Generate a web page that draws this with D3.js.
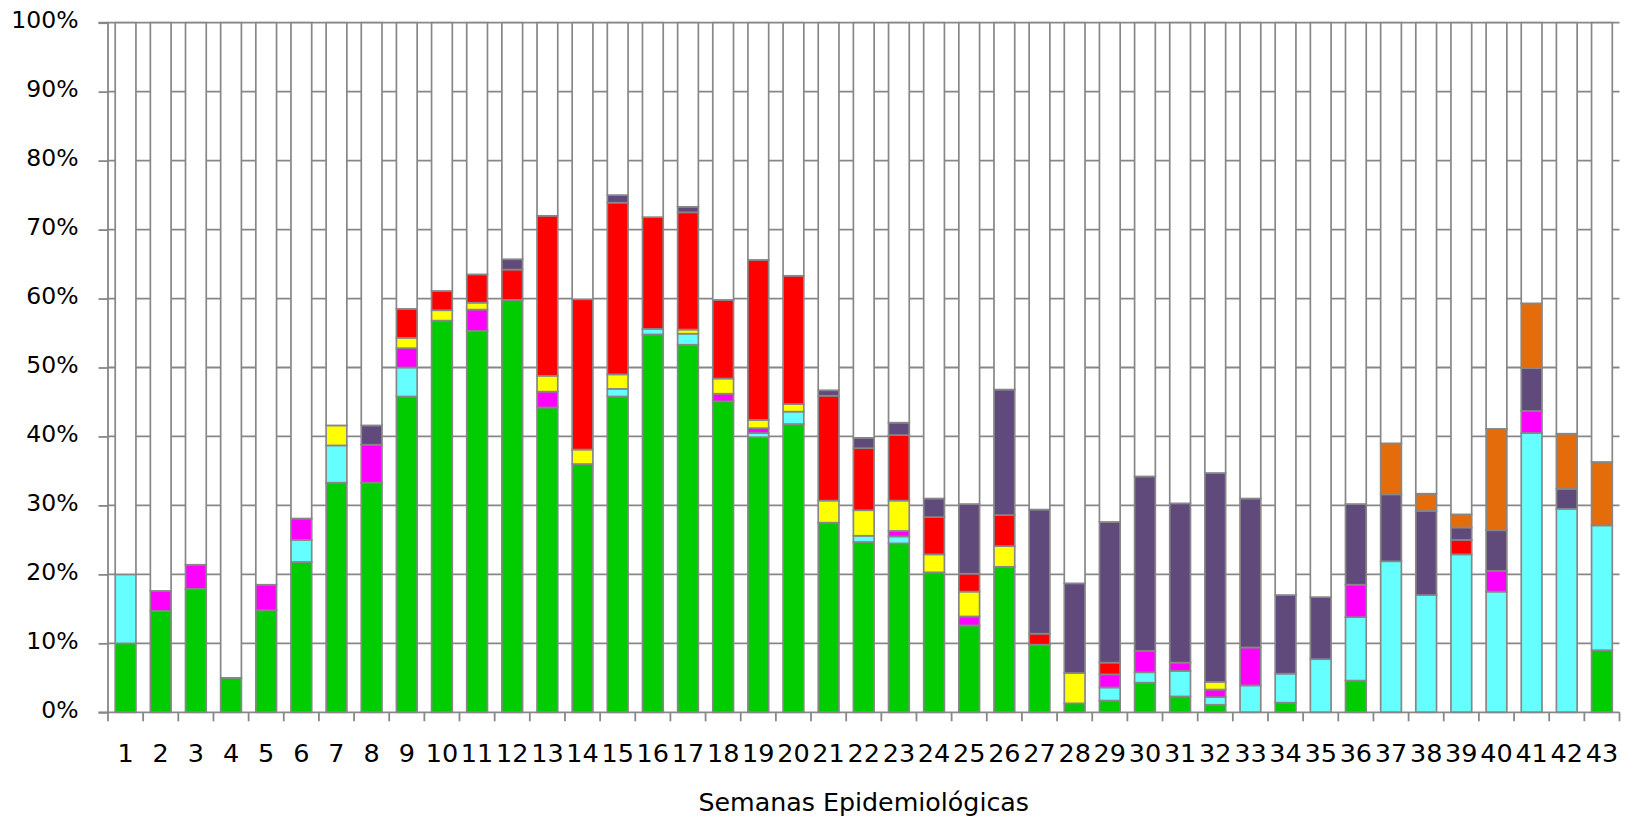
<!DOCTYPE html>
<html>
<head>
<meta charset="utf-8">
<script src="https://cdn.jsdelivr.net/npm/d3@7"></script>
<style>
  html, body { margin: 0; padding: 0; background: #fff; }
  svg { display: block; }
  text { font-family: "DejaVu Sans", sans-serif; fill: #000; }
</style>
</head>
<body>
<svg id="chart" width="1633" height="822"></svg>
<script>
// ---- Data (percent of samples per epidemiological week) ----
const weeks = d3.range(1, 44).map(String);
const green   = [10,14.7,17.9,5.0,14.8,21.8,33.3,33.3,45.8,56.8,55.3,59.8,44.2,36.0,45.8,54.8,53.3,45.1,39.9,41.8,27.5,24.7,24.5,20.3,12.6,21.1,9.8,1.3,1.7,4.3,2.3,1.1,0,1.4,0,4.6,0,0,0,0,0,0,9.0];
const cyan    = [10,0,0,0,0,3.2,5.4,0,4.2,0,0,0,0,0,1.1,0.8,1.6,0,0.6,1.8,0,0.9,1.0,0,0,0,0,0,1.9,1.5,3.7,1.1,3.9,4.2,7.7,9.2,21.9,17.0,22.9,17.5,40.5,29.5,18.1];
const magenta = [0,2.9,3.5,0,3.7,3.1,0,5.5,2.8,0,3.1,0,2.3,0,0,0,0,1.1,0.7,0,0,0,0.8,0,1.3,0,0,0,1.9,3.1,1.2,1.1,5.5,0,0,4.7,0,0,0,3.0,3.2,0,0];
const yellow  = [0,0,0,0,0,0,2.9,0,1.5,1.5,1.0,0,2.3,2.1,2.1,0,0.6,2.2,1.2,1.1,3.2,3.7,4.4,2.6,3.6,3.0,0,4.4,0,0,0,1.1,0,0,0,0,0,0,0,0,0,0,0];
const red     = [0,0,0,0,0,0,0,0,4.2,2.8,4.1,4.4,23.2,21.8,24.9,16.2,17.0,11.4,23.2,18.6,15.2,9.0,9.5,5.4,2.6,4.5,1.6,0,1.7,0,0,0,0,0,0,0,0,0,2.1,0,0,0,0];
const purple  = [0,0,0,0,0,0,0,2.8,0,0,0,1.5,0,0,1.1,0,0.8,0,0,0,0.8,1.5,1.8,2.7,10.1,18.2,18.0,13.0,20.4,25.3,23.1,30.3,21.6,11.4,9.0,11.7,9.7,12.2,1.8,5.9,6.2,2.9,0];
const orange  = [0,0,0,0,0,0,0,0,0,0,0,0,0,0,0,0,0,0,0,0,0,0,0,0,0,0,0,0,0,0,0,0,0,0,0,0,7.4,2.5,1.9,14.7,9.4,8.0,9.2];
const negative= [80,82.4,78.6,95.0,81.5,71.9,58.4,58.4,41.5,38.9,36.5,34.3,28.0,40.1,25.0,28.2,26.7,40.2,34.4,36.7,53.3,60.2,58.0,69.0,69.8,53.2,70.6,81.3,72.4,65.8,69.7,65.3,69.0,83.0,83.3,69.8,61.0,68.3,71.3,58.9,40.7,59.6,63.7];
const yTicks  = [0,0.1,0.2,0.3,0.4,0.5,0.6,0.7,0.8,0.9,1.0];
const xTitle  = "Semanas Epidemiológicas";

const seriesNames = ["green","cyan","magenta","yellow","red","purple","orange","negative"];
const seriesColors = {
  green: "#00CC00", cyan: "#66FFFF", magenta: "#FF00FF", yellow: "#FFFF00",
  red: "#FF0000", purple: "#604A7B", orange: "#E46C0A", negative: "#FFFFFF"
};
const seriesData = { green, cyan, magenta, yellow, red, purple, orange, negative };

const rows = weeks.map((w, i) => {
  const r = { week: w };
  seriesNames.forEach(s => r[s] = seriesData[s][i]);
  return r;
});

// ---- Layout ----
const mLeft = 108, mRight = 1619.5, mTop = 22.7, mBottom = 712.3;
const svg = d3.select("#chart");

const x = d3.scaleBand().domain(weeks).range([mLeft, mRight]).paddingInner(0.41).paddingOuter(0.205);
const y = d3.scaleLinear().domain([0, 1]).range([mBottom, mTop]);

const gridColor = "#878787";

// gridlines
svg.append("g").selectAll("line").data(yTicks.filter(t => t > 0)).join("line")
  .attr("x1", mLeft).attr("x2", mRight)
  .attr("y1", d => y(d)).attr("y2", d => y(d))
  .attr("stroke", gridColor).attr("stroke-width", 1.8);

// stacked bars
const stack = d3.stack().keys(seriesNames).offset(d3.stackOffsetExpand);
const stacked = stack(rows);

const gBars = svg.append("g");
stacked.forEach(layer => {
  gBars.append("g")
    .attr("fill", seriesColors[layer.key])
    .selectAll("rect")
    .data(layer.filter(d => d[1] - d[0] > 1e-9))
    .join("rect")
    .attr("x", d => x(d.data.week))
    .attr("width", x.bandwidth())
    .attr("y", d => y(d[1]))
    .attr("height", d => y(d[0]) - y(d[1]))
    .attr("stroke", gridColor)
    .attr("stroke-width", 1.7);
});

// y axis
const yAxis = d3.axisLeft(y).tickValues(yTicks).tickFormat(d3.format(".0%")).tickSize(9.5).tickPadding(20);
const gy = svg.append("g").attr("transform", `translate(${mLeft},0)`).call(yAxis);
gy.select(".domain").attr("stroke", gridColor).attr("stroke-width", 1.8).attr("d", `M-9.5,${mTop}H0V${mBottom}H-9.5`);
gy.selectAll(".tick line").attr("stroke", gridColor).attr("stroke-width", 1.8);
gy.selectAll(".tick text")
  .attr("font-size", "23.5px")
  .attr("font-family", "DejaVu Sans, sans-serif")
  .attr("fill", "#000")
  .attr("dy", null)
  .attr("y", 5);

// x axis
const gx = svg.append("g").attr("transform", `translate(0,${mBottom})`);
gx.append("line").attr("x1", mLeft).attr("x2", mRight).attr("y1", 0).attr("y2", 0)
  .attr("stroke", gridColor).attr("stroke-width", 1.8);
const boundaries = weeks.map(w => x(w) - x.step() * x.paddingOuter()).concat([mRight]);
gx.selectAll("line.tk").data(boundaries).join("line").attr("class", "tk")
  .attr("x1", d => d).attr("x2", d => d).attr("y1", 0).attr("y2", 9)
  .attr("stroke", gridColor).attr("stroke-width", 1.8);
gx.selectAll("text").data(weeks).join("text")
  .attr("x", d => x(d) + x.bandwidth() / 2)
  .attr("y", 762 - mBottom)
  .attr("text-anchor", "middle")
  .attr("font-size", "25.5px")
  .text(d => d);

// x title
svg.append("text")
  .attr("x", (mLeft + mRight) / 2)
  .attr("y", 811)
  .attr("text-anchor", "middle")
  .attr("font-size", "25.3px")
  .text(xTitle);
</script>
</body>
</html>
